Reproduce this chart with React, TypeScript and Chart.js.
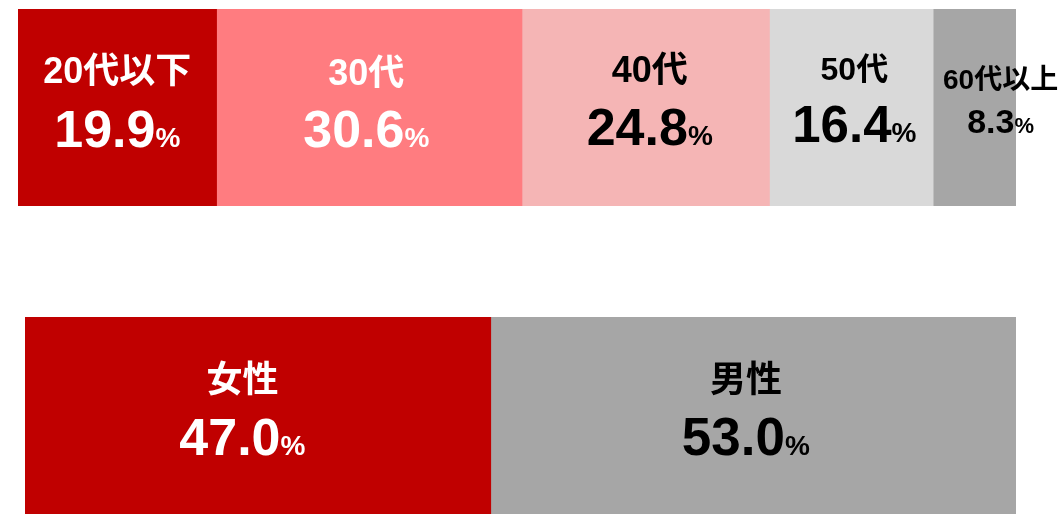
import React, { useEffect, useRef } from "react";
import { Chart, registerables } from "chart.js";

Chart.register(...registerables);

// ---- data ----
const ageCategories = ["20代以下", "30代", "40代", "50代", "60代以上"];
const ageValues = [19.9, 30.6, 24.8, 16.4, 8.3];
const genderCategories = ["女性", "男性"];
const genderValues = [47.0, 53.0];

// ---- styles ----
const ageColors = ["#C00000", "#FF7C80", "#F5B5B5", "#D9D9D9", "#A6A6A6"];
const ageTextColors = ["#FFFFFF", "#FFFFFF", "#000000", "#000000", "#000000"];
const ageLabelSizes = [36, 36, 36, 32, 28];
const ageValueSizes = [52, 52, 52, 51, 34];
const agePctSizes = [28, 28, 28, 28, 22];
const ageDx = [0, -3, 4, 3, 26];
const ageLabelDy = [-24.5, -22.5, -25.5, -27.5, -18.5];
const ageValueDy = [39.5, 39.5, 37.5, 34.5, 25.5];

const genderColors = ["#C00000", "#A6A6A6"];
const genderTextColors = ["#FFFFFF", "#000000"];
const genderLabelSizes = [36, 36];
const genderValueSizes = [52, 53];
const genderPctSizes = [28, 28];
const genderDx = [-15.5, -7.5];
const genderLabelDy = [-24, -24];
const genderValueDy = [39.5, 39.5];

const FONT = '"Liberation Sans", "Noto Sans CJK JP", sans-serif';

type Style = {
  textColors: string[];
  labelSizes: number[];
  valueSizes: number[];
  pctSizes: number[];
  dx: number[];
  labelDy: number[];
  valueDy: number[];
};

function makeLabelPlugin(labels: string[], values: number[], st: Style) {
  return {
    id: "segLabels",
    afterDatasetsDraw(chart: any) {
      const ctx = chart.ctx as CanvasRenderingContext2D;
      ctx.save();
      ctx.textBaseline = "alphabetic";
      chart.data.datasets.forEach((_ds: any, i: number) => {
        const el = chart.getDatasetMeta(i).data[0] as any;
        if (!el) return;
        const cx = (el.x + el.base) / 2 + st.dx[i];
        const cy = el.y;
        ctx.fillStyle = st.textColors[i];
        // category label
        ctx.font = `bold ${st.labelSizes[i]}px ${FONT}`;
        ctx.textAlign = "center";
        ctx.fillText(labels[i], cx, cy + st.labelDy[i]);
        // value + %
        const num = values[i].toFixed(1);
        ctx.font = `bold ${st.valueSizes[i]}px ${FONT}`;
        const wNum = ctx.measureText(num).width;
        ctx.font = `bold ${st.pctSizes[i]}px ${FONT}`;
        const wPct = ctx.measureText("%").width;
        const start = cx - (wNum + wPct) / 2;
        ctx.textAlign = "left";
        ctx.font = `bold ${st.valueSizes[i]}px ${FONT}`;
        ctx.fillText(num, start, cy + st.valueDy[i]);
        ctx.font = `bold ${st.pctSizes[i]}px ${FONT}`;
        ctx.fillText("%", start + wNum, cy + st.valueDy[i]);
      });
      ctx.restore();
    },
  };
}

function makeChart(
  canvas: HTMLCanvasElement,
  labels: string[],
  values: number[],
  colors: string[],
  padding: { left: number; right: number; top: number; bottom: number },
  st: Style
) {
  return new Chart(canvas, {
    type: "bar",
    data: {
      labels: [""],
      datasets: labels.map((l, i) => ({
        label: l,
        data: [values[i]],
        backgroundColor: colors[i],
        borderWidth: 0,
        barPercentage: 1,
        categoryPercentage: 1,
      })),
    },
    options: {
      indexAxis: "y",
      responsive: false,
      maintainAspectRatio: false,
      animation: false,
      layout: { padding },
      plugins: {
        legend: { display: false },
        tooltip: { enabled: false },
        title: { display: false },
      },
      scales: {
        x: { stacked: true, min: 0, max: 100, display: false },
        y: { stacked: true, display: false },
      },
    },
    plugins: [makeLabelPlugin(labels, values, st)],
  } as any);
}

export default function App() {
  const topRef = useRef<HTMLCanvasElement>(null);
  const botRef = useRef<HTMLCanvasElement>(null);

  useEffect(() => {
    const c1 = makeChart(
      topRef.current!,
      ageCategories,
      ageValues,
      ageColors,
      { left: 18, right: 47, top: 9, bottom: 14 },
      {
        textColors: ageTextColors,
        labelSizes: ageLabelSizes,
        valueSizes: ageValueSizes,
        pctSizes: agePctSizes,
        dx: ageDx,
        labelDy: ageLabelDy,
        valueDy: ageValueDy,
      }
    );
    const c2 = makeChart(
      botRef.current!,
      genderCategories,
      genderValues,
      genderColors,
      { left: 25, right: 47, top: 17, bottom: 0 },
      {
        textColors: genderTextColors,
        labelSizes: genderLabelSizes,
        valueSizes: genderValueSizes,
        pctSizes: genderPctSizes,
        dx: genderDx,
        labelDy: genderLabelDy,
        valueDy: genderValueDy,
      }
    );
    return () => {
      c1.destroy();
      c2.destroy();
    };
  }, []);

  return (
    <div
      style={{
        position: "fixed",
        left: 0,
        top: 0,
        width: 1063,
        height: 514,
        background: "#FFFFFF",
        overflow: "hidden",
      }}
    >
      <canvas
        ref={topRef}
        width={1063}
        height={220}
        style={{ position: "absolute", left: 0, top: 0, width: 1063, height: 220 }}
      />
      <canvas
        ref={botRef}
        width={1063}
        height={214}
        style={{ position: "absolute", left: 0, top: 300, width: 1063, height: 214 }}
      />
    </div>
  );
}
